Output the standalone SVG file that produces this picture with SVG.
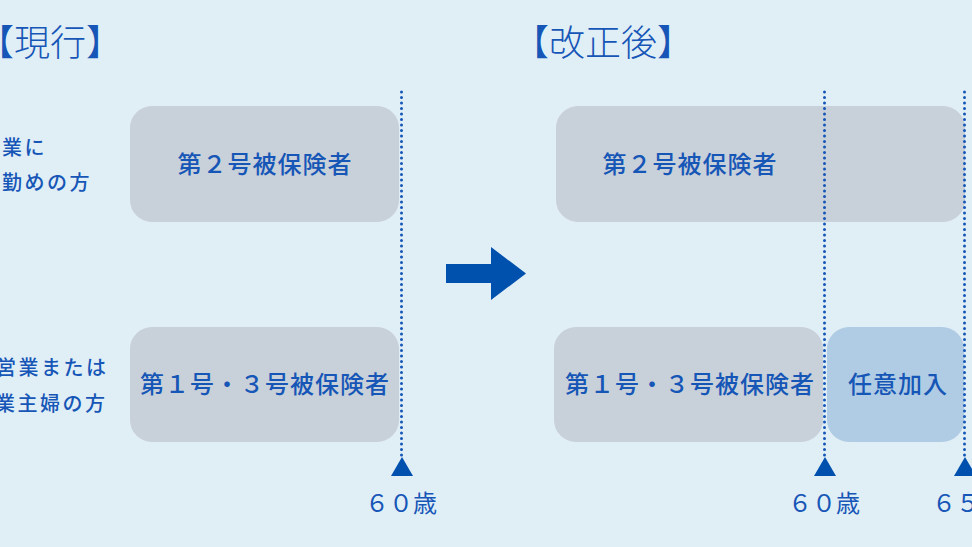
<svg xmlns="http://www.w3.org/2000/svg" width="972" height="547" viewBox="0 0 972 547">
<style>
  .t{font-family:"Noto Sans CJK JP","Noto Sans CJK SC",sans-serif;fill:#1656B6}
  .title{font-size:36px;font-weight:300}
  .lbl{font-size:20px;letter-spacing:2.5px;font-weight:500}
  .box{fill:#C8D0DA}
  .opt{fill:#B0CCE4}
  .bt{font-size:24px;letter-spacing:1px;text-anchor:middle;font-weight:500}
  .age{font-size:24px;text-anchor:middle}
  .dot{stroke:#1656B6;stroke-width:3;stroke-linecap:round;stroke-dasharray:0 5.5;fill:none}
  .tri{fill:#0050AE}
</style>
<rect width="972" height="547" fill="#E0EEF6"/>

<g id="title-current"><text class="t title" x="-22" y="56">【現行】</text></g>
<g id="title-revised"><text class="t title" x="513" y="56">【改正後】</text></g>

<g id="label-employee">
  <text class="t lbl" x="2" y="155">業に</text>
  <text class="t lbl" x="2" y="190">勤めの方</text>
</g>
<g id="label-self">
  <text class="t lbl" x="-4" y="375">営業または</text>
  <text class="t lbl" x="-5" y="411">業主婦の方</text>
</g>

<g id="cur-2go">
  <rect class="box" x="130" y="106" width="269" height="116" rx="22"/>
  <text class="t bt" x="265" y="173">第２号被保険者</text>
</g>
<g id="cur-13go">
  <rect class="box" x="130" y="327" width="269" height="115" rx="22"/>
  <text class="t bt" x="265" y="393">第１号・３号被保険者</text>
</g>

<g id="arrow">
  <path class="tri" d="M446 264 H491 V247 L526 273.5 L491 300 V283 H446 Z"/>
</g>

<g id="new-2go">
  <rect class="box" x="556" y="106" width="409" height="116" rx="22"/>
  <text class="t bt" x="690" y="173">第２号被保険者</text>
</g>
<g id="new-13go">
  <rect class="box" x="554" y="327" width="269" height="115" rx="22"/>
  <text class="t bt" x="690" y="393">第１号・３号被保険者</text>
</g>
<g id="new-optional">
  <rect class="opt" x="827" y="327" width="137" height="115" rx="22"/>
  <text class="t bt" x="898" y="393">任意加入</text>
</g>

<g id="connectors">
  <line class="dot" x1="401.5" y1="92" x2="401.5" y2="458"/>
  <line class="dot" x1="824.5" y1="92" x2="824.5" y2="458"/>
  <line class="dot" x1="964.5" y1="92" x2="964.5" y2="458"/>
  <path class="tri" d="M402 457 L413 476 H391 Z"/>
  <path class="tri" d="M825 457 L836 476 H814 Z"/>
  <path class="tri" d="M965 457 L976 476 H954 Z"/>
</g>

<g id="age-60-cur"><text class="t age" x="401" y="512">６０歳</text></g>
<g id="age-60-new"><text class="t age" x="824" y="512">６０歳</text></g>
<g id="age-65"><text class="t age" x="932" y="512" style="text-anchor:start">６５</text></g>
</svg>
